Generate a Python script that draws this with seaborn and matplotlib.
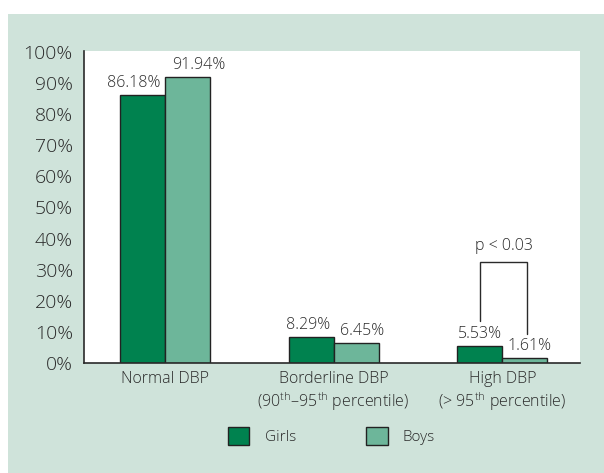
import matplotlib
matplotlib.use("Agg")
import matplotlib.pyplot as plt
import seaborn as sns
import pandas as pd
from matplotlib.patches import Patch, Rectangle

categories = ["Normal DBP",
              "Borderline DBP\n(90$^{\\mathrm{th}}$–95$^{\\mathrm{th}}$ percentile)",
              "High DBP\n(> 95$^{\\mathrm{th}}$ percentile)"]
groups = ["Girls", "Boys"]
girls = [86.18, 8.29, 5.53]
boys = [91.94, 6.45, 1.61]
yticks = list(range(0, 101, 10))
p_text = "p < 0.03"

GIRL_C = "#00824f"
BOY_C = "#6db69a"
BG = "#cfe3da"
TXT = "#2a2a2a"
EDGE = "#222222"

sns.set_theme(style="white")
plt.rcParams["font.family"] = ["Open Sans", "DejaVu Sans"]
plt.rcParams["font.weight"] = "light"
plt.rcParams["mathtext.fontset"] = "custom"
plt.rcParams["mathtext.rm"] = "Open Sans:light"
plt.rcParams["mathtext.it"] = "Open Sans:light"
plt.rcParams["mathtext.bf"] = "Open Sans"
plt.rcParams["text.color"] = TXT
plt.rcParams["xtick.color"] = TXT
plt.rcParams["ytick.color"] = TXT

df = pd.DataFrame({
    "category": categories * 2,
    "sex": [groups[0]] * 3 + [groups[1]] * 3,
    "value": girls + boys,
})

fig = plt.figure(figsize=(6.04, 4.73), dpi=100)
fig.patches.append(Rectangle((8 / 604, 0), 1, 1 - 14 / 473, transform=fig.transFigure,
                             facecolor=BG, edgecolor="none", zorder=-10))
ax = fig.add_axes([84 / 604, 1 - 363 / 473, (580 - 84) / 604, (363 - 51) / 473])
ax.set_facecolor("white")

sns.barplot(data=df, x="category", y="value", hue="sex", order=categories,
            hue_order=groups, palette=[GIRL_C, BOY_C], width=0.534,
            edgecolor=EDGE, linewidth=1.0, legend=False, ax=ax, saturation=1)

ax.set_xlim(-0.48, 2.46)
ax.set_ylim(0, 100.3)
ax.set_yticks(yticks)
ax.set_yticklabels([f"{t}%" for t in yticks], fontsize=14)
ax.set_xlabel("")
ax.set_ylabel("")
ax.tick_params(axis="x", which="major", length=0, labelsize=11.5, pad=6)
ax.set_xticks([0.5, 1.5], minor=True)
ax.tick_params(axis="x", which="minor", length=5, width=1.2, color=TXT, direction="out")
ax.tick_params(axis="y", length=5, width=1.2, color=TXT, direction="out", pad=3)
for s in ["top", "right"]:
    ax.spines[s].set_visible(False)
for s in ["left", "bottom"]:
    ax.spines[s].set_color(TXT)
    ax.spines[s].set_linewidth(1.2)

# value labels (horizontal nudges in points, as in the original layout)
nudges = [[-6.5, -2.0, 0.0], [8.5, 4.5, 3.5]]
for cont, vals, dxs in zip(ax.containers, [girls, boys], nudges):
    for bar, v, dx in zip(cont, vals, dxs):
        ax.annotate(f"{v:.2f}%", (bar.get_x() + bar.get_width() / 2, bar.get_height()),
                    xytext=(dx, 3), textcoords="offset points", ha="center", va="bottom",
                    fontsize=11.5, color=TXT)

# significance bracket over High DBP
gbar = ax.containers[0][2]
bbar = ax.containers[1][2]
x1 = gbar.get_x() + gbar.get_width() / 2
x2 = bbar.get_x() + bbar.get_width() / 2 + 0.015
ytop = 32.5
ax.plot([x1, x1, x2, x2], [girls[2] + 8.0, ytop, ytop, boys[2] + 7.7],
        color=TXT, linewidth=1.0, solid_joinstyle="miter")
ax.text((x1 + x2) / 2, ytop + 2.5, p_text, ha="center", va="bottom", fontsize=11.5, color=TXT)

handles = [Patch(facecolor=GIRL_C, edgecolor=EDGE, linewidth=1.0),
           Patch(facecolor=BOY_C, edgecolor=EDGE, linewidth=1.0)]
fig.legend(handles, groups, loc="center", bbox_to_anchor=(0.549, 1 - 436 / 473),
           ncol=2, frameon=False, fontsize=11, handlelength=1.4, handleheight=1.4,
           handletextpad=1.0, columnspacing=4.6)

fig.savefig("out.png", dpi=100, facecolor="white")
